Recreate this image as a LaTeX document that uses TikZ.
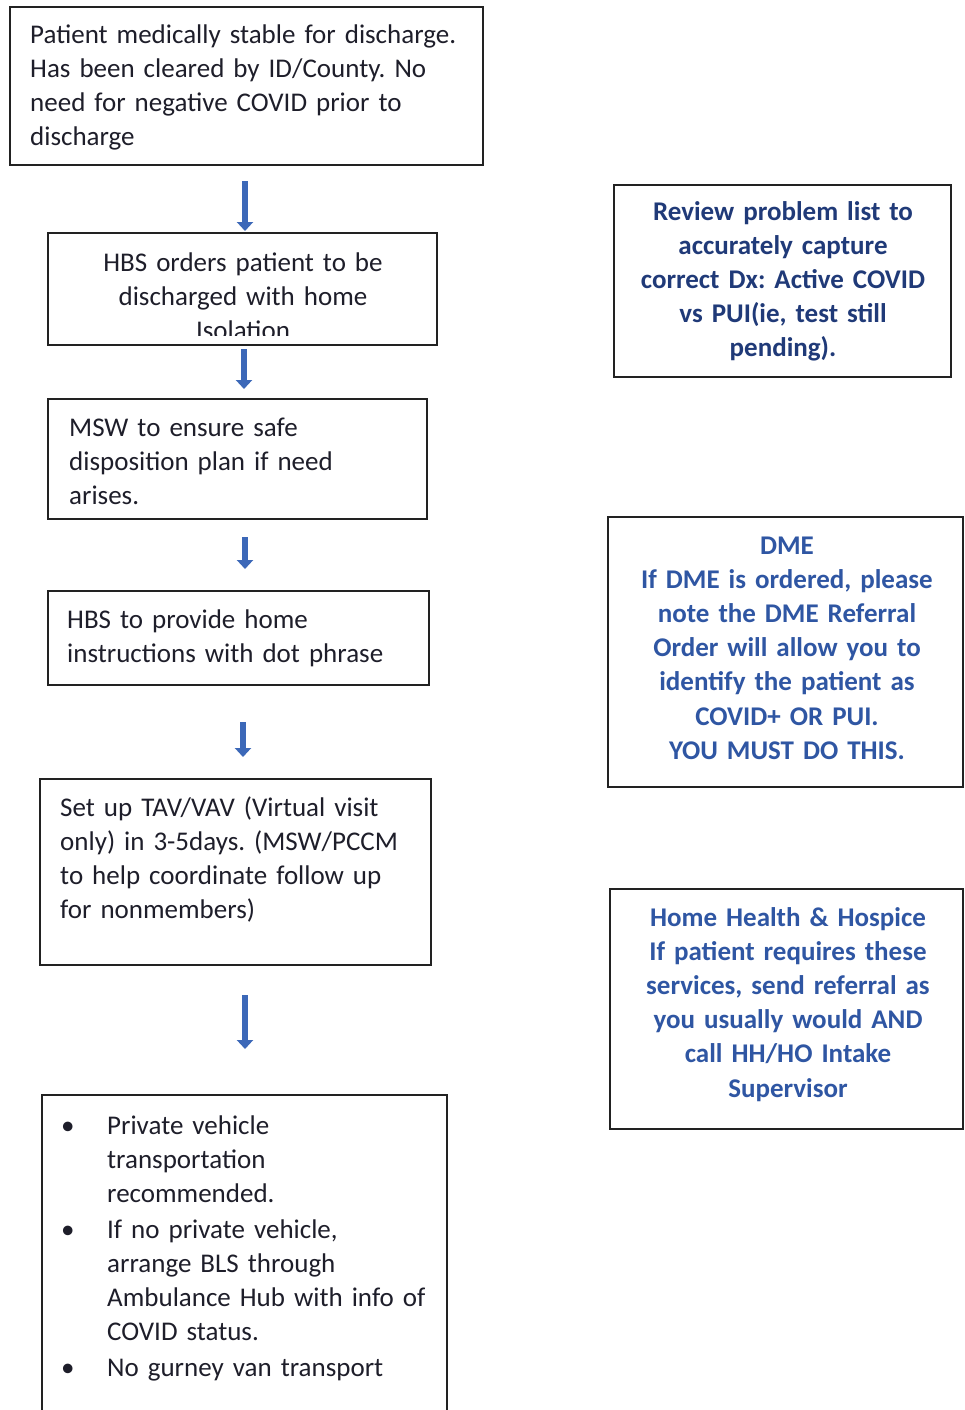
\documentclass[tikz,border=0pt]{standalone}
\usepackage{fontspec}
\setmainfont{Carlito}
\usetikzlibrary{arrows.meta}
\definecolor{inkdark}{HTML}{1E1E2A}
\definecolor{navytext}{HTML}{203A78}
\definecolor{bluetext}{HTML}{2F56A3}
\definecolor{arrowblue}{HTML}{3C68B8}
\definecolor{frame}{HTML}{222222}
\frenchspacing
\tikzset{
  box/.style={draw=frame, line width=1.5pt, fill=none},
  lefttext/.style={inner sep=0pt, anchor=base west, text width=#1, align=left,
    text=inkdark, font=\fontsize{27}{34}\selectfont},
  centertext/.style={inner sep=0pt, anchor=base, text width=#1, align=center,
    text=inkdark, font=\fontsize{27}{34}\selectfont},
  sidetext/.style={inner sep=0pt, anchor=base, text width=#1, align=center,
    font=\fontsize{27}{34.2}\selectfont\bfseries},
  flowarrow/.style={draw=arrowblue, line width=6pt,
    -{Triangle[width=16pt,length=9pt]}}
}
\begin{document}
\begin{tikzpicture}[x=1pt,y=-1pt]
  \clip (0,0) rectangle (964,1410);
  \fill[white] (0,0) rectangle (964,1410);

  % ---- main column: boxes ----
  \draw[box] (10,7) rectangle (483,165);
  \node[lefttext=460pt] (t1) at (30,44)
    {Patient medically stable for discharge.\\
     Has been cleared by ID/County. No\\
     need for negative COVID prior to\\
     discharge};

  \draw[box] (48,233) rectangle (437,345);
  \begin{scope}
    \clip (48,233) rectangle (437,335);
    \node[centertext=380pt] (t2) at (243,271)
      {HBS orders patient to be\\
       discharged with home\\
       Isolation};
  \end{scope}

  \draw[box] (48,399) rectangle (427,519);
  \node[lefttext=380pt] (t3) at (69,436)
    {MSW to ensure safe\\
     disposition plan if need\\
     arises.};

  \draw[box] (48,591) rectangle (429,685);
  \node[lefttext=380pt] (t4) at (67,628)
    {HBS to provide home\\
     instructions with dot phrase};

  \draw[box] (40,779) rectangle (431,965);
  \node[lefttext=400pt] (t5) at (60,816)
    {Set up TAV/VAV (Virtual visit\\
     only) in 3-5days. (MSW/PCCM\\
     to help coordinate follow up\\
     for nonmembers)};

  \draw[box] (42,1430) -- (42,1095) -- (447,1095) -- (447,1430);
  \node[lefttext=420pt] (t6) at (61,1134)
    {\makebox[46pt][l]{\textbullet}Private vehicle\\
     \hspace*{46pt}transportation\\
     \hspace*{46pt}recommended.\\[2pt]
     \makebox[46pt][l]{\textbullet}If no private vehicle,\\
     \hspace*{46pt}arrange BLS through\\
     \hspace*{46pt}Ambulance Hub with info of\\
     \hspace*{46pt}COVID status.\\[2pt]
     \makebox[46pt][l]{\textbullet}No gurney van transport};

  % ---- main column: arrows ----
  \coordinate (a1s) at (245,181);  \coordinate (a1e) at (245,231);
  \coordinate (a2s) at (244,349);  \coordinate (a2e) at (244,389);
  \coordinate (a3s) at (245,537);  \coordinate (a3e) at (245,569);
  \coordinate (a4s) at (243,722);  \coordinate (a4e) at (243,757);
  \coordinate (a5s) at (245,995);  \coordinate (a5e) at (245,1049);
  \draw[flowarrow] (a1s) -- (a1e);
  \draw[flowarrow] (a2s) -- (a2e);
  \draw[flowarrow] (a3s) -- (a3e);
  \draw[flowarrow] (a4s) -- (a4e);
  \draw[flowarrow] (a5s) -- (a5e);

  % ---- side notes ----
  \draw[box] (614,185) rectangle (951,377);
  \node[sidetext=330pt, text=navytext] (r1) at (783,220)
    {Review problem list to\\
     accurately capture\\
     correct Dx: Active COVID\\
     vs PUI(ie, test still\\
     pending).};

  \draw[box] (608,517) rectangle (963,787);
  \node[sidetext=350pt, text=bluetext] (r2) at (787,554)
    {DME\\
     If DME is ordered, please\\
     note the DME Referral\\
     Order will allow you to\\
     identify the patient as\\
     COVID+ OR PUI.\\
     YOU MUST DO THIS.};

  \draw[box] (610,889) rectangle (963,1129);
  \node[sidetext=350pt, text=bluetext] (r3) at (788,926)
    {Home Health \& Hospice\\
     If patient requires these\\
     services, send referral as\\
     you usually would AND\\
     call HH/HO Intake\\
     Supervisor};
\end{tikzpicture}
\end{document}
